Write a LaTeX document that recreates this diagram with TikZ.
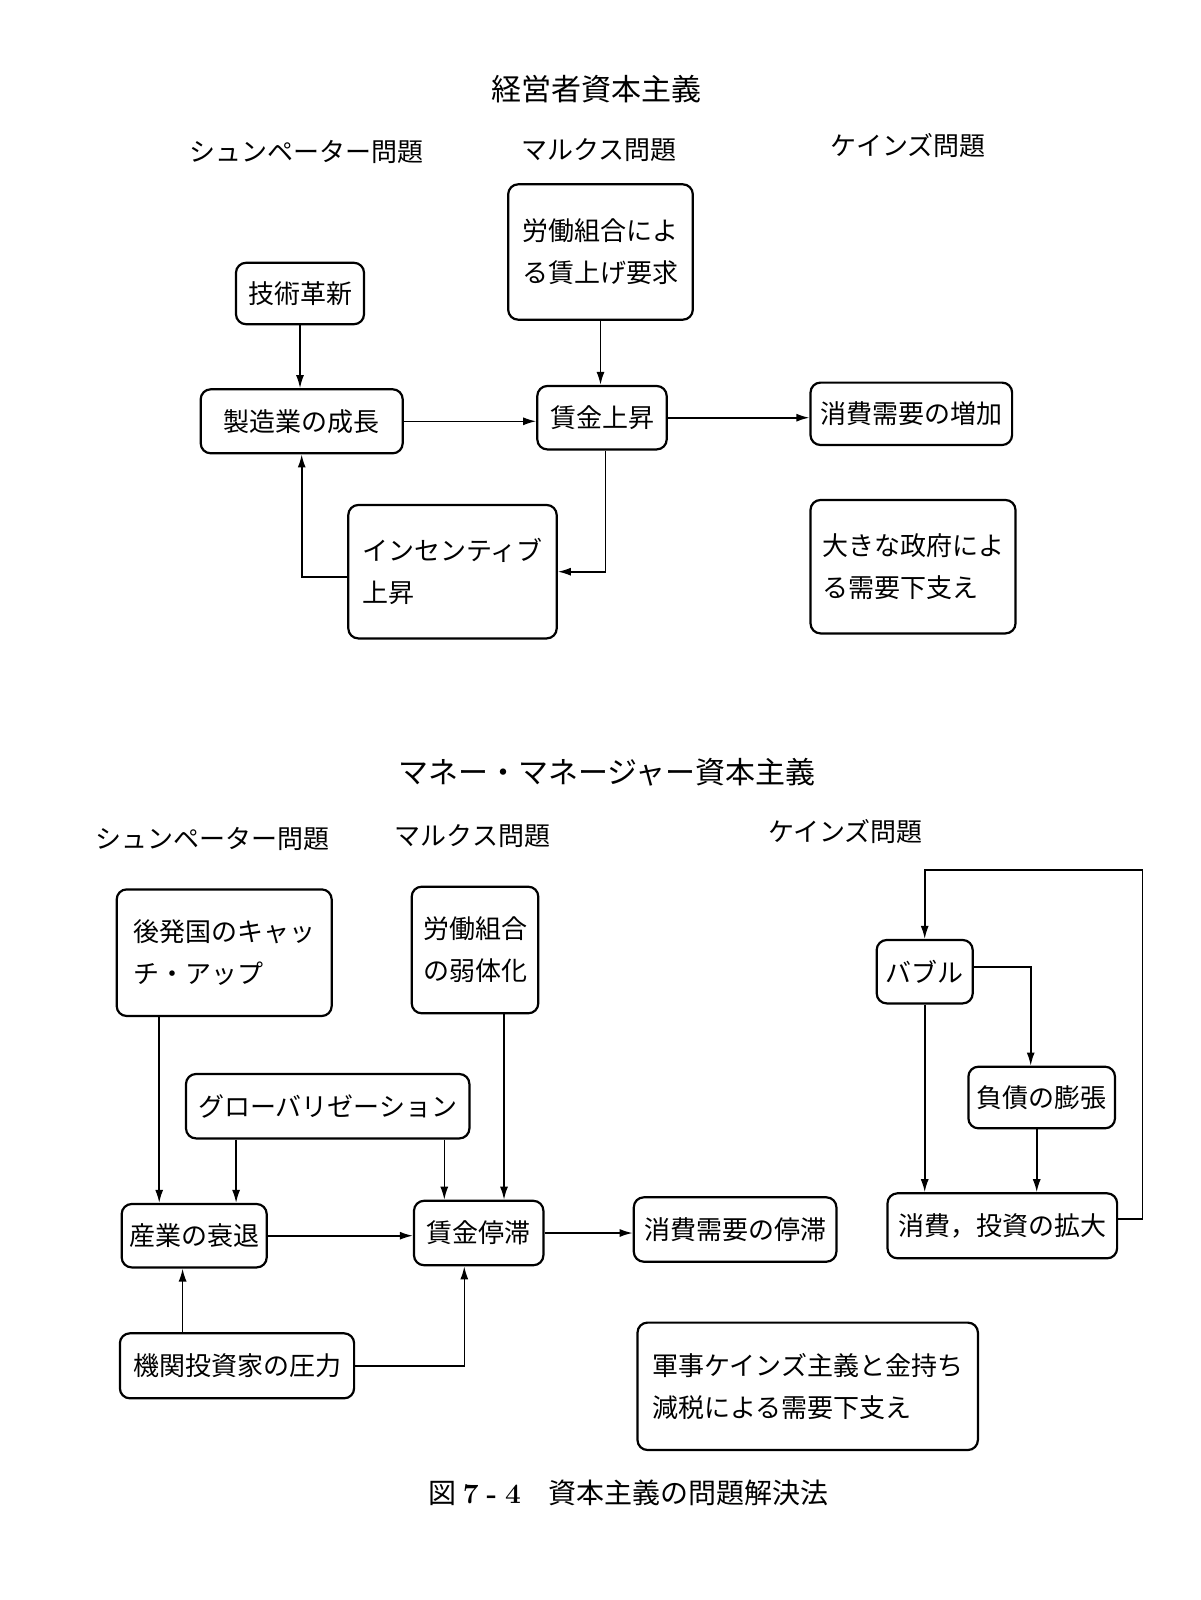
\documentclass[tikz,border=0pt]{standalone}
\usepackage{fontspec}
\newfontfamily\jp{Noto Sans CJK JP}
\usetikzlibrary{arrows.meta}
\tikzstyle{box}=[draw, rounded corners=5pt, line width=1.1pt, inner sep=0pt, align=left, font=\jp\fontsize{13}{21}\selectfont]
\tikzstyle{heading}=[font=\jp\fontsize{13}{16}\selectfont]
\tikzstyle{title}=[font=\jp\fontsize{15}{18}\selectfont]
\tikzstyle{arr}=[-{Latex[length=6.5pt,width=4pt]}, line width=0.8pt]

\begin{document}
\begin{tikzpicture}[x=0.5pt, y=-0.5pt]

   \useasboundingbox (0,0) rectangle (1200,1600);

   % upper part
   \node[title] (Title1) at (596.5, 89) {経営者資本主義};
   \foreach \pos/ \name / \label in {(306,152)/Schump1/シュンペーター問題, (599,150)/Marx1/マルクス問題, (908,146)/Keynes1/ケインズ問題}
        \node[heading] (\name) at \pos {\label};

   \foreach \pos/ \name / \w / \h / \label in {
        (300,293.5)/Tech/64/30.7/技術革新,
        (600.5,252)/Union/92.3/67.7/{労働組合によ\\る賃上げ要求},
        (301.7,421.3)/Manu/101/32/製造業の成長,
        (602,417.7)/WageUp/64.7/31.7/賃金上昇,
        (911.3,413.8)/ConsUp/100.8/31.2/消費需要の増加,
        (452.5,571.7)/Incent/104.2/66.7/{インセンティブ\\上昇},
        (913,566.7)/BigGov/102.5/66.7/{大きな政府によ\\る需要下支え}}
        \node[box, minimum width=\w pt, minimum height=\h pt] (\name) at \pos {\label};

   \draw[arr] (Tech.south) -- (Tech.south |- Manu.north);
   \draw[arr] (Union.south) -- (Union.south |- WageUp.north);
   \draw[arr] (Manu.east) -- (Manu.east -| WageUp.west);
   \draw[arr] (WageUp.east) -- (WageUp.east -| ConsUp.west);
   \draw[arr] ([xshift=1.8pt]WageUp.south) |- (Incent.east);
   \draw[arr] ([yshift=-2.5pt]Incent.west) -| (Manu.south);

   % lower part
   \node[title] (Title2) at (607, 772) {マネー・マネージャー資本主義};
   \foreach \pos/ \name / \label in {(212.6,838.7)/Schump2/シュンペーター問題, (472.6,836.4)/Marx2/マルクス問題, (845.5,831.8)/Keynes2/ケインズ問題}
        \node[heading] (\name) at \pos {\label};

   \foreach \pos/ \name / \w / \h / \label in {
        (224.2,952.7)/CatchUp/107.5/63.3/{後発国のキャッ\\チ・アップ},
        (475,950)/UnionWeak/63.3/63.3/{労働組合\\の弱体化},
        (327.7,1106.2)/Global/141.7/32.2/グローバリゼーション,
        (194.2,1235.7)/Decline/72.5/31.7/産業の衰退,
        (478.7,1233)/WageStag/64.7/32.2/賃金停滞,
        (735.1,1229.5)/ConsStag/101.3/32.2/消費需要の停滞,
        (237,1365.8)/Investor/117.1/32.5/機関投資家の圧力,
        (807.7,1386.3)/Military/170.2/63.7/{軍事ケインズ主義と金持ち\\減税による需要下支え},
        (924.7,971.7)/Bubble/48/31.7/バブル,
        (1041.7,1097.5)/Debt/73.3/30.8/負債の膨張,
        (1002.3,1225.8)/ConsInv/114.8/32.5/{消費，投資の拡大}}
        \node[box, minimum width=\w pt, minimum height=\h pt] (\name) at \pos {\label};

   \coordinate (LoopCorner) at (1142.6, 870);

   \draw[arr] ([xshift=-32.5pt]CatchUp.south) -- ([xshift=-32.5pt]CatchUp.south |- Decline.north);
   \draw[arr] ([xshift=-45.8pt]Global.south) -- ([xshift=-45.8pt]Global.south |- Decline.north);
   \draw[arr] ([xshift=58.3pt]Global.south) -- ([xshift=58.3pt]Global.south |- WageStag.north);
   \draw[arr] ([xshift=14.5pt]UnionWeak.south) -- ([xshift=14.5pt]UnionWeak.south |- WageStag.north);
   \draw[arr] (Decline.east) -- (Decline.east -| WageStag.west);
   \draw[arr] (WageStag.east) -- (WageStag.east -| ConsStag.west);
   \draw[arr] ([xshift=-27.2pt]Investor.north) -- ([xshift=-27.2pt]Investor.north |- Decline.south);
   \draw[arr] (Investor.east) -| ([xshift=-7.2pt]WageStag.south);
   \draw[arr] (Bubble.south) -- (Bubble.south |- ConsInv.north);
   \draw[arr] ([yshift=2.5pt]Bubble.east) -| ([xshift=-5.5pt]Debt.north);
   \draw[arr] ([xshift=-2.5pt]Debt.south) -- ([xshift=-2.5pt]Debt.south |- ConsInv.north);
   \draw[arr] ([yshift=3.4pt]ConsInv.east) -| (LoopCorner) -| (Bubble.north);

   \node[font=\jp\fontsize{14}{17}\selectfont] (Caption) at (628.8, 1493) {図\hspace{3pt}{\rmfamily\bfseries 7\hspace{4pt}-\hspace{4pt}4}\hspace{1em}資本主義の問題解決法};

\end{tikzpicture}
\end{document}
